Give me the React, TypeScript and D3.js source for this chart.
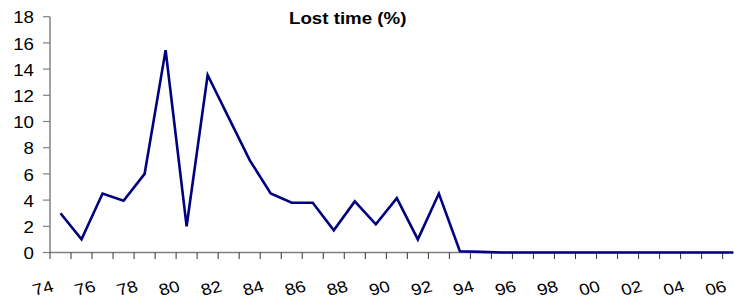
import React, { useEffect, useRef } from "react";
import * as d3 from "d3";

// years 1974 - 2006
const years = ["74", "75", "76", "77", "78", "79", "80", "81", "82", "83", "84", "85", "86", "87", "88", "89", "90",
  "91", "92", "93", "94", "95", "96", "97", "98", "99", "00", "01", "02", "03", "04", "05", "06"];
const lostTime = [3.0, 1.0, 4.5, 3.95, 6.0, 15.45, 2.0, 13.55, 10.3, 7.05, 4.5, 3.8, 3.8, 1.7, 3.9, 2.15, 4.15,
  1.0, 4.5, 0.1, 0.05, 0, 0, 0, 0, 0, 0, 0, 0, 0, 0, 0, 0];
const yTicks = [0, 2, 4, 6, 8, 10, 12, 14, 16, 18];
const title = "Lost time (%)";

const W = 734, H = 301;
const font = "'Liberation Sans', Arial, sans-serif";
const sx = 1.17; // picture is a bit stretched horizontally

export default function App() {
  const ref = useRef<SVGSVGElement>(null);

  useEffect(() => {
    const svg = d3.select(ref.current);
    svg.selectAll("*").remove();

    const left = 50, step = 21.02;
    const x = d3.scaleBand().domain(years).range([left, left + years.length * step]).padding(0);
    const y = d3.scaleLinear().domain([0, 18]).range([252.5, 16.7]);

    // title
    svg.append("text")
      .attr("transform", `translate(347.7,24) scale(${sx},1)`)
      .attr("text-anchor", "middle")
      .attr("font-family", font)
      .attr("font-weight", "bold")
      .attr("font-size", 16)
      .text(title);

    // y axis
    svg.append("line")
      .attr("x1", left).attr("x2", left)
      .attr("y1", y(18)).attr("y2", y(0))
      .attr("stroke", "#808080").attr("stroke-width", 1.5);
    const yt = svg.selectAll(".yt").data(yTicks).enter().append("g")
      .attr("transform", d => `translate(0,${y(d)})`);
    yt.append("line")
      .attr("x1", left - 7).attr("x2", left)
      .attr("stroke", "#808080").attr("stroke-width", 1.2);
    yt.append("text")
      .attr("transform", `translate(34,1) scale(${sx},1)`)
      .attr("text-anchor", "end")
      .attr("dy", "0.35em")
      .attr("font-family", font)
      .attr("font-size", 16)
      .text(d => d);

    // x axis
    svg.append("line")
      .attr("x1", left).attr("x2", W)
      .attr("y1", y(0)).attr("y2", y(0))
      .attr("stroke", "#808080").attr("stroke-width", 1.5);
    const bounds = years.map(d => x(d) as number);
    svg.selectAll(".xt").data(bounds).enter().append("line")
      .attr("x1", d => d).attr("x2", d => d)
      .attr("y1", y(0)).attr("y2", y(0) + 6.5)
      .attr("stroke", "#333").attr("stroke-width", 1);

    svg.selectAll(".xl").data(years.filter((d, i) => i % 2 === 0)).enter().append("text")
      .attr("transform", d => `translate(${(x(d) as number) + x.bandwidth() / 2 - 17.5},288) scale(${sx},1) rotate(-16)`)
      .attr("text-anchor", "middle")
      .attr("dy", "0.35em")
      .attr("font-family", font)
      .attr("font-size", 16)
      .text(d => d);

    // line
    const line = d3.line<number>()
      .x((d, i) => (x(years[i]) as number) + x.bandwidth() / 2)
      .y(d => y(d));
    svg.append("path")
      .datum(lostTime)
      .attr("d", line)
      .attr("fill", "none")
      .attr("stroke", "#000080")
      .attr("stroke-width", 2.6)
      .attr("stroke-linejoin", "miter");
  }, []);

  return (
    <div style={{ position: "fixed", left: 0, top: 0 }}>
      <svg ref={ref} width={W} height={H} style={{ display: "block", background: "#fff" }} />
    </div>
  );
}
